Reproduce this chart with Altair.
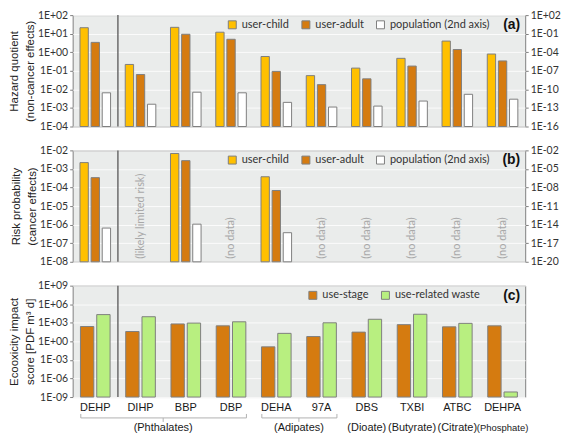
import altair as alt
import pandas as pd

categories = ["DEHP", "DIHP", "BBP", "DBP", "DEHA", "97A", "DBS", "TXBI", "ATBC", "DEHPA"]

# (a) hazard quotient
hq_child = [21, 0.22, 22, 12, 0.59, 0.055, 0.14, 0.47, 4.0, 0.8]
hq_adult = [3.4, 0.063, 9.3, 5.0, 0.093, 0.018, 0.037, 0.18, 1.4, 0.34]
hq_population = [2.8e-11, 4e-13, 3.5e-11, 2.8e-11, 8e-13, 1.4e-13, 2e-13, 1.3e-12, 1.6e-11, 2.6e-12]

# (b) risk probability
risk_child = [2.2e-3, None, 6.8e-3, None, 3.8e-4, None, None, None, None, None]
risk_adult = [3.4e-4, None, 2.8e-3, None, 6.9e-5, None, None, None, None, None]
risk_population = [2.8e-15, None, 1.2e-14, None, 5e-16, None, None, None, None, None]
risk_notes = ["", "(likely limited risk)", "", "(no data)", "", "(no data)",
              "(no data)", "(no data)", "(no data)", "(no data)"]

# (c) ecotoxicity
eco_use_stage = [250, 39, 650, 320, 0.13, 6.0, 31, 500, 220, 320]
eco_waste = [21000, 9500, 900, 1450, 19.5, 1000, 3700, 24000, 810, 6.6e-9]

group_names = ["(Phthalates)", "(Adipates)", "(Dioate)", "(Butyrate)", "(Citrate)", "(Phosphate)"]
group_first = ["DEHP", "DEHA", "DBS", "TXBI", "ATBC", "DEHPA"]
group_last = ["DBP", "97A", "DBS", "TXBI", "ATBC", "DEHPA"]

SER3 = ["user-child", "user-adult", "population (2nd axis)"]
COL3 = ["#FFC000", "#D57B10", "#FFFFFF"]
SER2 = ["use-stage", "use-related waste"]
COL2 = ["#D57B10", "#B8EF80"]

W, H = 455, 112
STROKE = "#7f7f7f"

E = "round(log(datum.value)/LN10)"
LABEL_EXPR = f"'1E' + ({E} < 0 ? '-' : '+') + (abs({E}) < 10 ? '0' : '') + abs({E})"


def decades(lo, hi, step):
    return [10.0 ** e for e in range(lo, hi + 1, step)]


def xenc(field="cat", band=None, axis=None):
    kw = {}
    if band is not None:
        kw["bandPosition"] = band
    return alt.X(f"{field}:N", sort=categories,
                 scale=alt.Scale(domain=categories, paddingInner=0, paddingOuter=0),
                 axis=axis, **kw)


def yaxis(vals, title=None, orient="left", grid=True):
    kw = dict(values=vals, labelExpr=LABEL_EXPR, orient=orient, grid=grid,
              gridColor="#fbfbfb", gridWidth=1, tickSize=3, tickColor=STROKE,
              domain=False, labelFont="Lato", labelFontSize=10.5, labelColor="#333333",
              labelPadding=2)
    if title is not None:
        kw.update(title=title, titleFont="Liberation Sans", titleFontSize=11.5,
                  titleFontWeight="normal", titleColor="#222222", titlePadding=2,
                  titleLineHeight=16)
    else:
        kw.update(title=None)
    return alt.Axis(**kw)


def legend(x):
    return alt.Legend(orient="none", legendX=x, legendY=4, direction="horizontal",
                      title=None, symbolType="square", symbolSize=64,
                      symbolStrokeColor=STROKE, symbolStrokeWidth=1,
                      labelFont="Lato", labelFontSize=11, labelColor="#333333",
                      columnPadding=10, labelOffset=4, padding=0)


def long(series_names, arrays):
    rows = []
    for s, arr in zip(series_names, arrays):
        for c, v in zip(categories, arr):
            if v is not None:
                rows.append({"cat": c, "series": s, "value": v})
    return pd.DataFrame(rows)


def separator(axis=None):
    return alt.Chart(pd.DataFrame({"cat": ["DIHP"]})).mark_rule(
        color="#6b6b6b", strokeWidth=1.5).encode(x=xenc(band=0, axis=axis))


def panel_label(t):
    return alt.Chart(pd.DataFrame({"t": [t]})).mark_text(
        align="right", baseline="middle", fontSize=14, fontWeight="bold",
        font="Liberation Sans", color="#111111").encode(
        text="t:N", x=alt.value(W - 5), y=alt.value(10))


def risk_panel(child, adult, pop, ldom, lvals, rdom, rvals, title, label, notes=None):
    xo = alt.XOffset("series:N", scale=alt.Scale(domain=SER3, paddingInner=0.25, paddingOuter=0.66))
    col = alt.Color("series:N", scale=alt.Scale(domain=SER3, range=COL3), legend=legend(155))
    left = alt.Chart(long(SER3[:2], [child, adult])).mark_bar(stroke=STROKE, strokeWidth=1).encode(
        x=xenc(), xOffset=xo,
        y=alt.Y("value:Q", scale=alt.Scale(type="log", domain=ldom, nice=False),
                axis=yaxis(lvals, title=title)),
        y2=alt.Y2(datum=ldom[0]),
        color=col)
    right = alt.Chart(long(SER3[2:], [pop])).mark_bar(stroke=STROKE, strokeWidth=1).encode(
        x=xenc(), xOffset=xo,
        y=alt.Y("value:Q", scale=alt.Scale(type="log", domain=rdom, nice=False),
                axis=yaxis(rvals, orient="right", grid=False)),
        y2=alt.Y2(datum=rdom[0]),
        color=col)
    layers = [left, right, separator()]
    if notes is not None:
        nd = pd.DataFrame({"cat": categories, "note": notes})
        layers.append(alt.Chart(nd).transform_filter("datum.note != ''").mark_text(
            angle=270, align="left", baseline="middle", font="Lato", fontSize=11,
            color="#a8a8a8").encode(x=xenc(), y=alt.value(H - 3), text="note:N"))
    layers.append(panel_label(label))
    return alt.layer(*layers).resolve_scale(y="independent").properties(width=W, height=H)


pa = risk_panel(hq_child, hq_adult, hq_population, [1e-4, 1e2], decades(-4, 2, 1),
                [1e-16, 1e2], decades(-16, 2, 3), ["Hazard quotient", "(non-cancer effects)"], "(a)")
pb = risk_panel(risk_child, risk_adult, risk_population, [1e-8, 1e-2], decades(-8, -2, 1),
                [1e-20, 1e-2], decades(-20, -2, 3), ["Risk probability", "(cancer effects)"], "(b)",
                notes=risk_notes)

# panel c
xo2 = alt.XOffset("series:N", scale=alt.Scale(domain=SER2, paddingInner=0.18, paddingOuter=0.48))
col2 = alt.Color("series:N", scale=alt.Scale(domain=SER2, range=COL2), legend=legend(236))
XA = alt.Axis(title=None, labelAngle=0, ticks=False, domain=False, labelPadding=5,
              labelFont="Liberation Sans", labelFontSize=11, labelColor="#1a1a1a", grid=False)
bars_c = alt.Chart(long(SER2, [eco_use_stage, eco_waste])).mark_bar(stroke=STROKE, strokeWidth=1).encode(
    x=xenc(axis=XA), xOffset=xo2,
    y=alt.Y("value:Q", scale=alt.Scale(type="log", domain=[1e-9, 1e9], nice=False),
            axis=yaxis(decades(-9, 9, 3), title=["Ecooxicity impact", "score [PDF m³ d]"])),
    y2=alt.Y2(datum=1e-9),
    color=col2)

idx = {c: i for i, c in enumerate(categories)}
gdf = pd.DataFrame({
    "name": group_names, "first": group_first, "last": group_last,
    "mid": [categories[(idx[f] + idx[l] + 1) // 2] for f, l in zip(group_first, group_last)],
    "multi": [idx[l] > idx[f] for f, l in zip(group_first, group_last)],
})
BR = "#b0b0b0"
BY = H + 21
brace_h = alt.Chart(gdf).transform_filter("datum.multi").mark_rule(color=BR, strokeWidth=1).encode(
    x=xenc("first", band=0.18, axis=XA), x2=alt.X2("last", bandPosition=0.84), y=alt.value(BY))
brace_l = alt.Chart(gdf).transform_filter("datum.multi").mark_rule(color=BR, strokeWidth=1).encode(
    x=xenc("first", band=0.18, axis=XA), y=alt.value(BY - 4), y2=alt.value(BY))
brace_r = alt.Chart(gdf).transform_filter("datum.multi").mark_rule(color=BR, strokeWidth=1).encode(
    x=xenc("last", band=0.84, axis=XA), y=alt.value(BY - 4), y2=alt.value(BY))
brace_m = alt.Chart(gdf).transform_filter("datum.multi").mark_rule(color=BR, strokeWidth=1).encode(
    x=xenc("mid", band=0, axis=XA), y=alt.value(BY), y2=alt.value(BY + 4))
gtext_multi = alt.Chart(gdf).transform_filter("datum.multi").mark_text(
    font="Liberation Sans", fontSize=11, color="#1a1a1a", baseline="middle").encode(
    x=xenc("mid", band=0, axis=XA), y=alt.value(H + 31), text="name:N")
gtext_single = alt.Chart(gdf).transform_filter("!datum.multi").mark_text(
    font="Liberation Sans", color="#1a1a1a", baseline="middle").encode(
    x=xenc("first", band=0.5, axis=XA), y=alt.value(H + 31), text="name:N",
    size=alt.condition("datum.name == '(Phosphate)'", alt.value(9.5), alt.value(11)))

pc = alt.layer(bars_c, separator(axis=XA), brace_h, brace_l, brace_r, brace_m, gtext_multi,
               gtext_single, panel_label("(c)")).properties(width=W, height=H)

chart = alt.vconcat(pa, pb, pc, spacing=12).resolve_scale(
    color="independent", x="independent", y="independent", xOffset="independent"
).resolve_legend(color="independent").properties(padding=0).configure_view(
    stroke=STROKE, strokeWidth=1, fill="#eaeceb")

chart.save("out.html", embed_options={"renderer": "svg", "actions": False})
